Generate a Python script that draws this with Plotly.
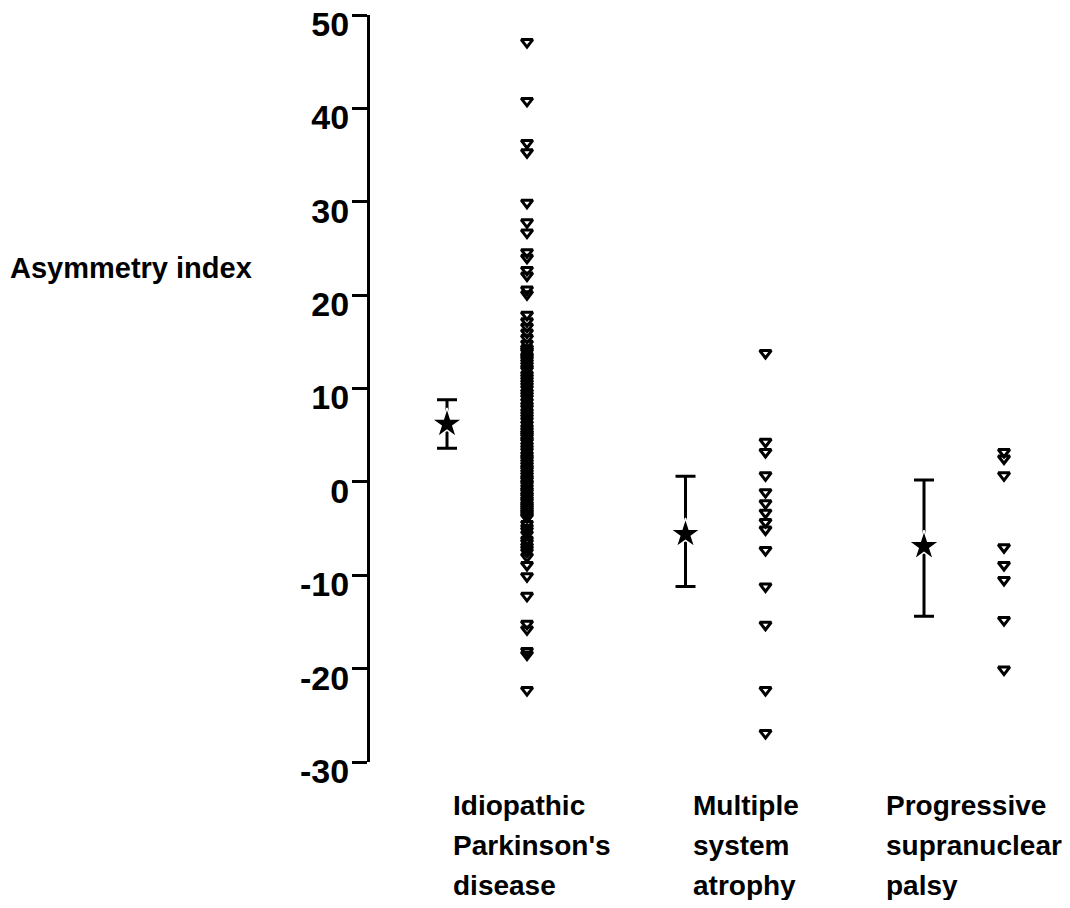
import plotly.graph_objects as go

# ---------------- data ----------------
categories = ["Idiopathic Parkinson's disease", "Multiple system atrophy", "Progressive supranuclear palsy"]
category_lines = [["Idiopathic", "Parkinson's", "disease"],
                  ["Multiple", "system", "atrophy"],
                  ["Progressive", "supranuclear", "palsy"]]

ipd_values = [47.1, 40.8, 36.3, 35.3, 29.9, 27.8, 26.7, 24.6, 24.0, 22.7, 22.1, 20.6, 20.1,
              17.9, 17.2, 16.6, 16.0, 15.4, 14.8, 14.3, 13.9, 13.5, 13.1, 12.5, 12.0, 11.5,
              10.9, 10.3, 9.6, 9.0, 8.6, 7.9, 7.5, 6.9, 6.2, 5.8, 5.2, 4.8, 4.3, 3.9, 3.3,
              2.9, 2.4, 1.8, 1.3, 0.7, 0.2, -0.3, -0.9, -1.4, -1.9, -2.4, -2.8, -3.2, -3.6,
              -4.5, -4.9, -5.6, -6.2, -6.9, -7.5, -8.0, -8.9, -10.1, -12.2, -15.2, -15.8,
              -18.1, -18.5, -22.3,
              14.1, 13.3, 12.8, 12.2, 11.2, 10.6, 10.0, 9.3, 8.2, 7.2, 6.6, 5.5, 5.0, 4.5,
              3.6, 2.6, 2.1, 1.5, 1.0, 0.4, -0.1, -0.6, -1.1, -1.6, -2.1, -2.6, -3.0, -3.4,
              -3.8, -5.2, -6.5, -7.2]
msa_values = [13.8, 4.3, 3.2, 0.7, -1.1, -2.3, -3.3, -4.3, -5.1, -7.3, -11.2, -15.3, -22.3, -26.9]
psp_values = [3.2, 2.5, 0.7, -7.0, -8.9, -10.5, -14.8, -20.1]
group_values = [ipd_values, msa_values, psp_values]

means = [6.2, -5.6, -6.9]
err_plus = [2.6, 6.2, 7.1]
err_minus = [2.6, 5.6, 7.5]

y_ticks = [-30, -20, -10, 0, 10, 20, 30, 40, 50]
y_tick_labels = ["-30", "-20", "-10", "0", "10", "20", "30", "40", "50"]
y_title = "Asymmetry index"

# ---------------- layout helpers ----------------
BODY = 8  # default page margin of the html body
W, H = 1062, 892
ML, MR, MT, MB = 362, 10, 7, 138
GROUP_PX = 238.5
X_MIN = -0.4906
X_MAX = X_MIN + (W - ML - MR) / GROUP_PX
OFF = 0.1677
FONT = "Liberation Sans, Arial, sans-serif"

def py_paper(ypix_screen):
    return (H - MB - (ypix_screen - BODY)) / (H - MT - MB)

fig = go.Figure()

# scatter columns
for g, vals in enumerate(group_values):
    fig.add_trace(go.Scatter(
        x=[g + OFF] * len(vals), y=vals, mode="markers",
        marker=dict(symbol="triangle-down-open", size=10, color="black",
                    line=dict(width=3, color="black")),
        showlegend=False, hoverinfo="y"))

# mean +/- error
fig.add_trace(go.Scatter(
    x=[g - OFF for g in range(len(categories))], y=means, mode="markers",
    marker=dict(symbol="star", size=23, color="black", line=dict(width=1.5, color="white")),
    error_y=dict(type="data", symmetric=False, array=err_plus, arrayminus=err_minus,
                 color="black", thickness=3, width=10),
    showlegend=False, hoverinfo="y"))

annotations = []
# category labels
label_dx = [-0.151, -0.144, -0.335]
line_pix = [805, 845, 885]
for g, lines in enumerate(category_lines):
    for i, t in enumerate(lines):
        annotations.append(dict(
            text=t, x=g + label_dx[g], xref="x", xanchor="left",
            y=py_paper(line_pix[i]), yref="paper", yanchor="middle",
            showarrow=False, font=dict(family=FONT, size=28, color="black", weight="bold")))

annotations.append(dict(
    text=y_title, x=(0 - ML) / (W - ML - MR), xref="paper", xanchor="left",
    y=py_paper(268), yref="paper", yanchor="middle", showarrow=False,
    font=dict(family=FONT, size=29, color="black", weight="bold")))

fig.update_layout(
    width=W, height=H,
    margin=dict(l=ML, r=MR, t=MT, b=MB, pad=0, autoexpand=False),
    paper_bgcolor="white", plot_bgcolor="white",
    annotations=annotations,
    xaxis=dict(range=[X_MIN, X_MAX], visible=False, showgrid=False, zeroline=False,
               automargin=False),
    yaxis=dict(range=[-30, 50], tickmode="array", tickvals=y_ticks, ticktext=y_tick_labels,
               showline=True, linewidth=3, linecolor="black", mirror=False,
               ticks="outside", ticklen=15, tickwidth=3, tickcolor="black",
               showgrid=False, zeroline=False, ticklabeloverflow="allow",
               ticklabelshift=9, ticklabelstandoff=-4,
               automargin=False,
               tickfont=dict(family=FONT, size=34, color="black", weight="bold")),
)

fig.write_html("out.html")
